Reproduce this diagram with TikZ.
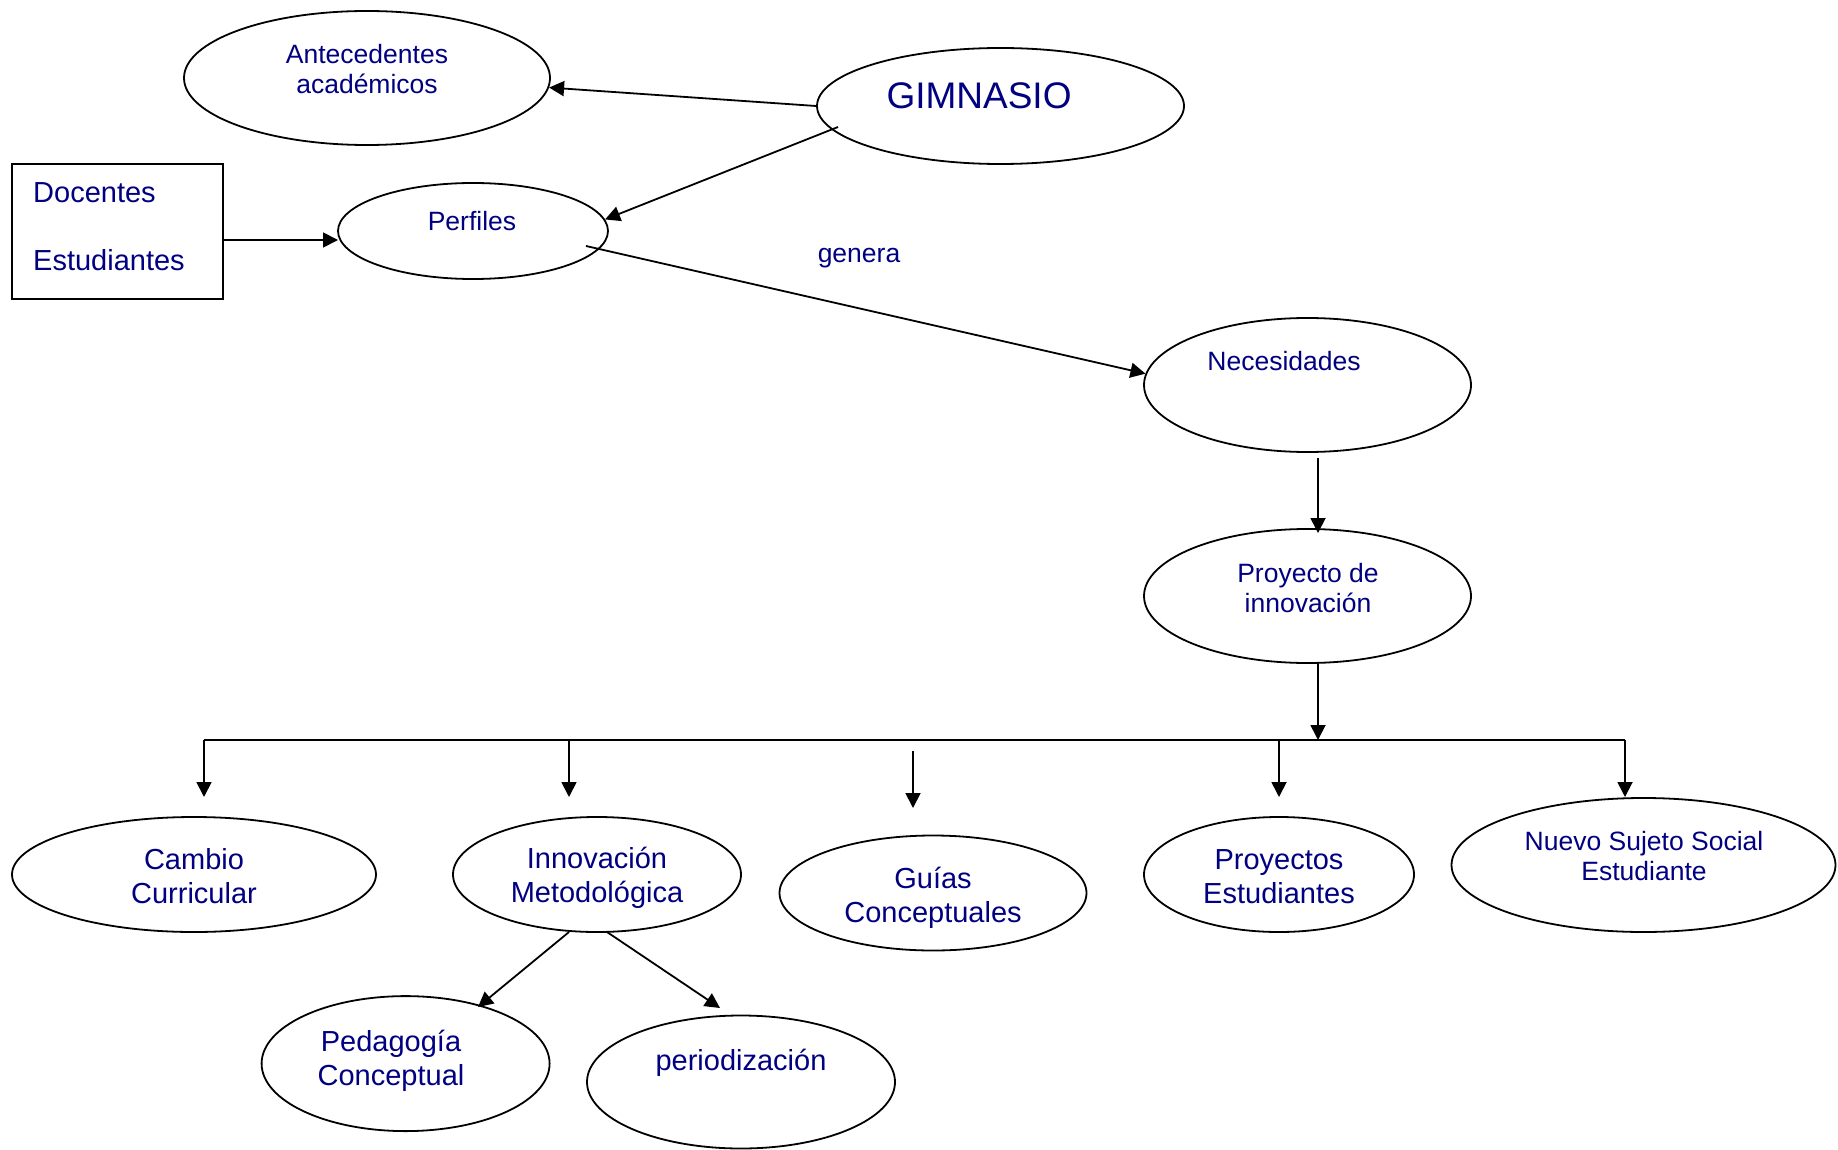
\documentclass[tikz,border=0pt]{standalone}
\usepackage{fontspec}
\setmainfont{Liberation Sans}
\usetikzlibrary{shapes.geometric,arrows.meta}
\definecolor{navy}{RGB}{0,0,128}
\begin{document}
\begin{tikzpicture}[x=1pt,y=-1pt,
  ov/.style={draw=black,line width=1.8pt,ellipse,inner sep=0pt},
  sm/.style={text=navy,font=\fontsize{26.5}{30.5}\selectfont,align=center,inner sep=0pt},
  md/.style={text=navy,font=\fontsize{29}{34}\selectfont,align=center,inner sep=0pt},
  arr/.style={line width=1.8pt,-{Triangle[length=15pt,width=15pt]}},
  ln/.style={line width=1.8pt}]
\useasboundingbox[fill=white] (0,0) rectangle (1838,1150);

% ellipses
\node[ov,minimum width=366pt,minimum height=134pt] (ant) at (367,78) {};
\node[ov,minimum width=367pt,minimum height=116pt] (gim) at (1000.5,106) {};
\node[ov,minimum width=270pt,minimum height=96pt] (perf) at (473,231) {};
\node[draw=black,line width=1.8pt,minimum width=211pt,minimum height=135pt,inner sep=0pt] (box) at (117.5,231.5) {};
\node[ov,minimum width=327pt,minimum height=134pt] (nec) at (1307.5,385) {};
\node[ov,minimum width=327pt,minimum height=134pt] (proj) at (1307.5,596) {};
\node[ov,minimum width=364pt,minimum height=115pt] (camb) at (194,874.5) {};
\node[ov,minimum width=288pt,minimum height=115pt] (innov) at (597,874.5) {};
\node[ov,minimum width=307pt,minimum height=115pt] (guias) at (933,893) {};
\node[ov,minimum width=270pt,minimum height=115pt] (pest) at (1279,874.5) {};
\node[ov,minimum width=384pt,minimum height=134pt] (nuevo) at (1643.5,865) {};
\node[ov,minimum width=288pt,minimum height=135pt] (ped) at (405.6,1063.6) {};
\node[ov,minimum width=308pt,minimum height=133pt] (peri) at (741,1082) {};

% texts
\node[sm] (antT) at (367,69) {Antecedentes\\académicos};
\node[text=navy,font=\fontsize{37}{42}\selectfont,inner sep=0pt] (gimT) at (979,96) {GIMNASIO};
\node[sm] (perfT) at (472,221) {Perfiles};
\node[md,anchor=west] (docT) at (33,193) {Docentes};
\node[md,anchor=west] (estT) at (33,260) {Estudiantes};
\node[sm] (genT) at (859,258) {genera};
\node[sm] (necT) at (1284,361) {Necesidades};
\node[sm] (projT) at (1308,588) {Proyecto de\\innovación};
\node[md] (cambT) at (194,876) {Cambio\\Curricular};
\node[md] (innovT) at (597,878) {Innovación\\Metodológica};
\node[md] (guiasT) at (933,898) {Guías\\Conceptuales};
\node[md] (pestT) at (1279,877) {Proyectos\\Estudiantes};
\node[sm] (nuevoT) at (1644,856) {Nuevo Sujeto Social\\Estudiante};
\node[md] (pedT) at (391,1061) {Pedagogía\\Conceptual};
\node[md] (periT) at (741,1063) {periodización};

% connector coordinates
\coordinate (g2p) at (838,127);
\coordinate (p2n) at (586,246);
\coordinate (bxo) at (223,240);
\coordinate (pin) at (338,240);
\coordinate (necb) at (1318,458);
\coordinate (projt) at (1318,533);
\coordinate (projb) at (1318,663);
\coordinate (busc) at (1318,740);
\coordinate (busL) at (204,740);
\coordinate (busR) at (1625,740);
\coordinate (d1) at (204,797);
\coordinate (d2a) at (569,740);
\coordinate (d2) at (569,797);
\coordinate (d3a) at (913,751);
\coordinate (d3) at (913,808);
\coordinate (d4a) at (1279,740);
\coordinate (d4) at (1279,797);
\coordinate (d5) at (1625,797);
\coordinate (i1) at (569,932);
\coordinate (i1e) at (478,1007);
\coordinate (i2) at (607,932);
\coordinate (i2e) at (720,1008);

% connectors
\draw[arr] (gim.west) -- (ant.-3);
\draw[arr] (g2p) -- (perf.5);
\draw[arr] (bxo) -- (pin);
\draw[arr] (p2n) -- (nec.176);
\draw[arr] (necb) -- (projt);
\draw[arr] (projb) -- (busc);
\draw[ln] (busL) -- (busR);
\draw[arr] (busL) -- (d1);
\draw[arr] (d2a) -- (d2);
\draw[arr] (d3a) -- (d3);
\draw[arr] (d4a) -- (d4);
\draw[arr] (busR) -- (d5);
\draw[arr] (i1) -- (i1e);
\draw[arr] (i2) -- (i2e);
\end{tikzpicture}
\end{document}
